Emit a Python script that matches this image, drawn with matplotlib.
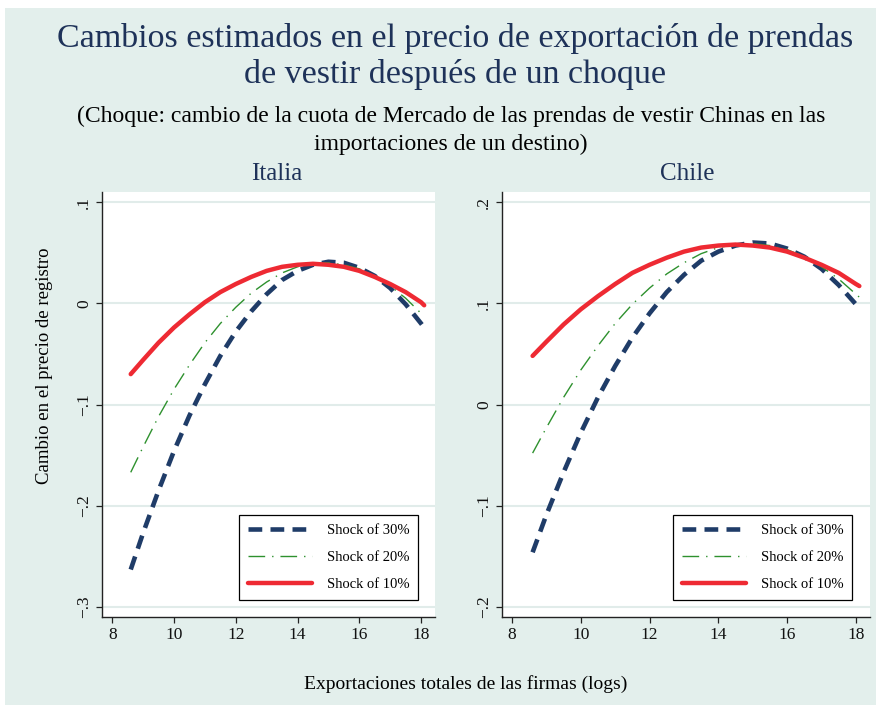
import matplotlib
matplotlib.use("Agg")
import matplotlib.pyplot as plt
from matplotlib.patches import Rectangle

plt.rcParams['font.family'] = ['Liberation Serif', 'DejaVu Serif']

# Log total firm exports (x grid shared by every curve)
exports_log = [8.6, 9.0, 9.5, 10.0, 10.5, 11.0, 11.5, 12.0, 12.5, 13.0, 13.5,
               14.0, 14.5, 15.0, 15.5, 16.0, 16.5, 17.0, 17.5, 18.0, 18.1]

# Italia: estimated change in log price
italia_30 = [-0.263, -0.227, -0.185, -0.146, -0.111, -0.080, -0.052, -0.028, -0.008, 0.009, 0.023,
             0.032, 0.038, 0.041, 0.040, 0.035, 0.027, 0.015, -0.001, -0.020, -0.024]
italia_20 = [-0.167, -0.142, -0.112, -0.085, -0.061, -0.039, -0.020, -0.004, 0.010, 0.021, 0.030,
             0.036, 0.039, 0.040, 0.038, 0.034, 0.027, 0.017, 0.005, -0.010, -0.013]
italia_10 = [-0.070, -0.056, -0.039, -0.024, -0.011, 0.001, 0.011, 0.019, 0.026, 0.032, 0.036,
             0.038, 0.039, 0.038, 0.036, 0.032, 0.026, 0.019, 0.011, 0.001, -0.002]

# Chile: estimated change in log price
chile_30 = [-0.146, -0.109, -0.067, -0.028, 0.007, 0.038, 0.066, 0.090, 0.111, 0.128, 0.142,
            0.151, 0.157, 0.160, 0.159, 0.154, 0.146, 0.134, 0.118, 0.099, 0.095]
chile_20 = [-0.048, -0.023, 0.007, 0.034, 0.058, 0.080, 0.099, 0.115, 0.129, 0.140, 0.149,
            0.155, 0.158, 0.159, 0.157, 0.153, 0.146, 0.136, 0.124, 0.109, 0.106]
chile_10 = [0.048, 0.062, 0.079, 0.094, 0.107, 0.119, 0.130, 0.138, 0.145, 0.151, 0.155,
            0.157, 0.158, 0.157, 0.155, 0.151, 0.145, 0.138, 0.130, 0.119, 0.117]

x_ticks = [8, 10, 12, 14, 16, 18]
italia_yticks = [-0.3, -0.2, -0.1, 0.0, 0.1]
italia_ylabels = ["\u2212.3", "\u2212.2", "\u2212.1", "0", ".1"]
chile_yticks = [-0.2, -0.1, 0.0, 0.1, 0.2]
chile_ylabels = ["\u2212.2", "\u2212.1", "0", ".1", ".2"]

series_labels = ["Shock of 30%", "Shock of 20%", "Shock of 10%"]

BG = "#e3efec"
NAVY = "#1f3c68"
GREEN = "#2e912e"
RED = "#ee2a33"
TITLE_COLOR = "#1e3259"
GRID = "#e1ecea"

W, H = 876, 705
fig = plt.figure(figsize=(W / 100, H / 100), dpi=100)
fig.patch.set_facecolor("white")
fig.patches.append(Rectangle((5 / W, 0), 1 - 5 / W, 1 - 8 / H, transform=fig.transFigure,
                             facecolor=BG, edgecolor="none", zorder=-10))


def px_axes(left, right, top, bottom):
    return fig.add_axes([left / W, 1 - bottom / H, (right - left) / W, (bottom - top) / H])


def draw_panel(ax, s30, s20, s10, xlim, ylim, yticks, ylabels, title, title_x, legend_anchor):
    ax.set_facecolor("white")
    l30, = ax.plot(exports_log, s30, color=NAVY, lw=3.3, dash_capstyle="butt",
                   solid_capstyle="butt", label=series_labels[0])
    l30.set_dashes((3.0, 1.8))
    l20, = ax.plot(exports_log, s20, color=GREEN, lw=1.0, label=series_labels[1])
    l20.set_dashes((12, 5, 1, 5))
    ax.plot(exports_log, s10, color=RED, lw=3.2, solid_capstyle="round", label=series_labels[2])

    ax.set_xlim(*xlim)
    ax.set_ylim(*ylim)
    ax.set_xticks(x_ticks)
    ax.set_xticklabels([str(t) for t in x_ticks])
    ax.set_yticks(yticks)
    ax.set_yticklabels(ylabels, rotation=90, va="center")
    for y in yticks:
        ax.axhline(y, color=GRID, lw=1.5, zorder=0)

    for side in ("top", "right"):
        ax.spines[side].set_visible(False)
    for side in ("left", "bottom"):
        ax.spines[side].set_color("#222222")
        ax.spines[side].set_linewidth(1.0)
    ax.tick_params(axis="both", direction="out", length=4, width=0.9, color="#222222",
                   labelsize=12.5, labelcolor="#111111", pad=3)

    fig.text(title_x / W, 1 - 174 / H, title, ha="center", va="center",
             fontsize=18, color=TITLE_COLOR)

    leg = ax.legend(loc="lower right", bbox_to_anchor=legend_anchor, fontsize=10.5,
                    frameon=True, fancybox=False, edgecolor="black", framealpha=1,
                    handlelength=4.4, handletextpad=1.0, labelspacing=0.95,
                    borderpad=0.6, borderaxespad=0)
    leg.get_frame().set_linewidth(0.9)


ax1 = px_axes(102, 435, 192, 617)
draw_panel(ax1, italia_30, italia_20, italia_10, (7.67, 18.45), (-0.3099, 0.1099),
           italia_yticks, italia_ylabels, "Italia", 277, (0.949, 0.04))

ax2 = px_axes(502, 870, 192, 617)
draw_panel(ax2, chile_30, chile_20, chile_10, (7.71, 18.41), (-0.2099, 0.2099),
           chile_yticks, chile_ylabels, "Chile", 687, (0.951, 0.04))

fig.text(455 / W, 1 - 39 / H, "Cambios estimados en el precio de exportación de prendas",
         ha="center", va="center", fontsize=24.5, color=TITLE_COLOR)
fig.text(455 / W, 1 - 74 / H, "de vestir después de un choque",
         ha="center", va="center", fontsize=24.5, color=TITLE_COLOR)
fig.text(451 / W, 1 - 116 / H,
         "(Choque: cambio de la cuota de Mercado de las prendas de vestir Chinas en las",
         ha="center", va="center", fontsize=17, color="black")
fig.text(451 / W, 1 - 144 / H, "importaciones de un destino)",
         ha="center", va="center", fontsize=17, color="black")

fig.text(45 / W, 1 - 366 / H, "Cambio en el precio de registro", rotation=90,
         ha="center", va="center", fontsize=13.5, color="black")
fig.text(466 / W, 1 - 684 / H, "Exportaciones totales de las firmas (logs)",
         ha="center", va="center", fontsize=14, color="black")

fig.savefig("out.png", dpi=100, facecolor=fig.get_facecolor())
